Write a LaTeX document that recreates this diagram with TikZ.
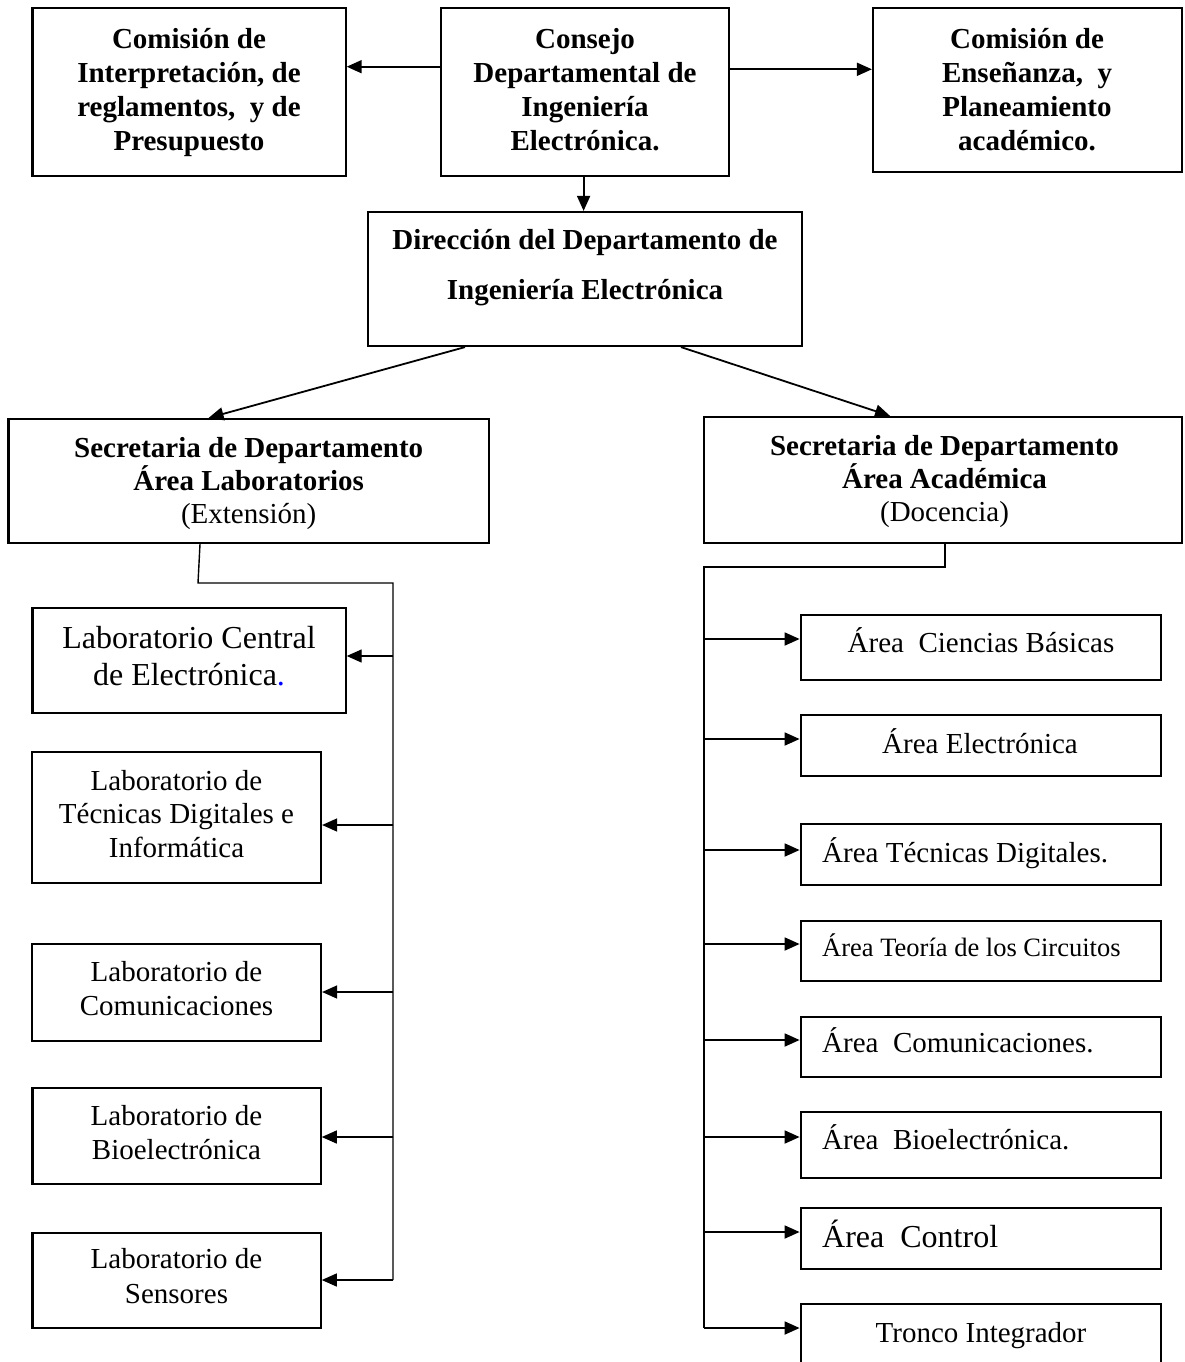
\documentclass[tikz,border=0pt]{standalone}
\usepackage{fontspec}
\setmainfont{Liberation Serif}
\usetikzlibrary{arrows.meta,fit}
\begin{document}
\begin{tikzpicture}[x=1pt,y=-1pt,
  bx/.style={draw, line width=2.2pt, inner sep=0pt},
  tb/.style={inner sep=0pt, anchor=base, align=center, font=\bfseries\fontsize{29}{33.7}\selectfont},
  tr/.style={inner sep=0pt, anchor=base, align=center, font=\fontsize{29}{34}\selectfont},
  tl/.style={inner sep=0pt, anchor=base west, font=\fontsize{29}{34}\selectfont},
  arr/.style={line width=1.8pt, -{Triangle[length=15pt,width=13pt]}},
  ln/.style={line width=1.4pt},
  lnr/.style={line width=1.8pt}]
\useasboundingbox (0,0) rectangle (1185,1362);
\fill[white] (0,0) rectangle (1185,1362);
\clip (0,0) rectangle (1185,1362);

% top row
\node[bx, fit={(32.5,8.3) (345.6,176)}] (A) {};
\node[bx, fit={(441,8.3) (729,176)}] (B) {};
\node[bx, fit={(873,8.3) (1182,172)}] (C) {};
\node[tb] (At) at (189,150) {Comisión de\\Interpretación, de\\reglamentos,\ \ y de\\Presupuesto};
\node[tb] (Bt) at (585,150) {Consejo\\Departamental de\\Ingeniería\\Electrónica.};
\node[tb] (Ct) at (1027,150) {Comisión de\\Enseñanza,\ \ y\\Planeamiento\\académico.};

% direction
\node[bx, fit={(368,212) (802,346)}] (D) {};
\node[tb, font=\bfseries\fontsize{29}{50}\selectfont] (Dt) at (585,299) {Dirección del Departamento de\\Ingeniería Electrónica};

% secretarias
\node[bx, fit={(8.4,419) (489,543)}] (E) {};
\node[bx, fit={(704,417) (1182,543)}] (F) {};
\node[tr, font=\fontsize{29}{33}\selectfont] (Et) at (248.7,523) {\textbf{Secretaria de Departamento}\\\textbf{Área Laboratorios}\\(Extensión)};
\node[tr, font=\fontsize{29}{33}\selectfont] (Ft) at (944.5,521) {\textbf{Secretaria de Departamento}\\\textbf{Área Académica}\\(Docencia)};

% labs
\node[bx, fit={(32.5,608) (345.6,713)}] (L1) {};
\node[bx, fit={(32,752) (321,883)}] (L2) {};
\node[bx, fit={(32,944) (321,1041)}] (L3) {};
\node[bx, fit={(32.5,1088) (320.7,1184)}] (L4) {};
\node[bx, fit={(32.5,1233) (320.7,1328)}] (L5) {};
\node[tr, font=\fontsize{32}{37}\selectfont] (L1t) at (189,685) {Laboratorio Central\\de Electrónica\textcolor{blue}{.}};
\node[tr, font=\fontsize{29}{33.5}\selectfont] (L2t) at (176.5,857) {Laboratorio de\\Técnicas Digitales e\\Informática};
\node[tr] (L3t) at (176.5,1015) {Laboratorio de\\Comunicaciones};
\node[tr] (L4t) at (176.5,1159) {Laboratorio de\\Bioelectrónica};
\node[tr, font=\fontsize{29}{35}\selectfont] (L5t) at (176.5,1303) {Laboratorio de\\Sensores};

% areas
\node[bx, fit={(800.7,615) (1161,680)}] (R1) {};
\node[bx, fit={(800.7,715) (1161,776)}] (R2) {};
\node[bx, fit={(800.7,824) (1161,885)}] (R3) {};
\node[bx, fit={(800.7,921) (1161,981)}] (R4) {};
\node[bx, fit={(800.7,1017) (1161,1077)}] (R5) {};
\node[bx, fit={(800.7,1112) (1161,1178)}] (R6) {};
\node[bx, fit={(800.7,1208) (1161,1269)}] (R7) {};
\node[bx, fit={(800.7,1304) (1161,1420)}] (R8) {};
\node[tr] (R1t) at (981,652) {Área\ \ Ciencias Básicas};
\node[tr] (R2t) at (980,753) {Área Electrónica};
\node[tl] (R3t) at (822,862) {Área Técnicas Digitales.};
\node[tl, font=\fontsize{26.5}{30}\selectfont] (R4t) at (822,956) {Área Teoría de los Circuitos};
\node[tl] (R5t) at (822,1052) {Área\ \ Comunicaciones.};
\node[tl] (R6t) at (822,1149) {Área\ \ Bioelectrónica.};
\node[tl, font=\fontsize{32}{36}\selectfont] (R7t) at (822,1247) {Área\ \ Control};
\node[tr] (R8t) at (981,1342) {Tronco Integrador};

% top connectors
\draw[arr] (B.west |- 0,66.7) -- (A.east |- 0,66.7);
\draw[arr] (B.east |- 0,69.3) -- (C.west |- 0,69.3);
\draw[arr] (B.south -| 583.6,0) -- (D.north -| 583.6,0);
\draw[arr] (D.south -| 465,0) -- (E.north -| 208.6,0);
\draw[arr] (D.south -| 681,0) -- (F.north -| 890,0);

% left bus
\coordinate (lb0) at (198,583);
\coordinate (lbT) at (393,583);
\coordinate (lbB) at (393,1280);
\draw[ln] (E.south -| 200,0) -- (lb0) -- (lbT) -- (lbB);
\foreach \n/\y in {1/656,2/825,3/992,4/1137,5/1280}{
  \coordinate (lt\n) at (393,\y);
  \draw[ln, -{Triangle[length=15pt,width=13pt]}] (lt\n) -- (L\n.east |- lt\n);
}

% right bus
\coordinate (rb0) at (945,567);
\coordinate (rbT) at (704,567);
\coordinate (rbB) at (704,1328);
\draw[lnr] (F.south -| rb0) -- (rb0) -- (rbT) -- (rbB);
\foreach \n/\y in {1/639,2/739,3/850,4/944,5/1040,6/1137,7/1232,8/1328}{
  \coordinate (rt\n) at (704,\y);
  \draw[arr] (rt\n) -- (R\n.west |- rt\n);
}
\end{tikzpicture}
\end{document}
